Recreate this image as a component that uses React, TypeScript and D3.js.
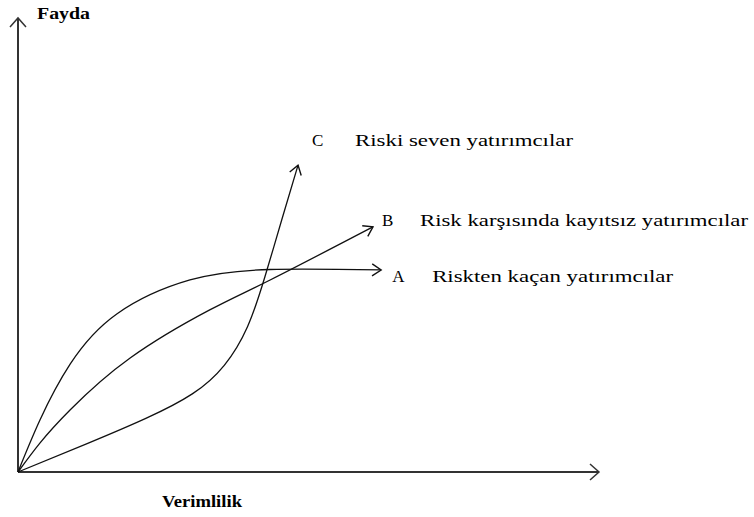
import React from "react";
import * as d3 from "d3";

// Curve data in abstract units (x: Verimlilik 0..100, y: Fayda 0..100)
const curveA_x = [0, 3.8, 9.0, 17.0, 29.6, 43.4, 62.5];
const curveA_y = [0, 11.5, 23.8, 34.8, 42.3, 44.6, 44.5];

const curveB_x = [0, 3.8, 9.0, 19.3, 33.0, 43.4, 61.1];
const curveB_y = [0, 6.4, 13.7, 25.1, 35.7, 42.3, 54.0];

const curveC_x = [0, 12, 22, 30, 35.5, 39.5, 42.5, 45.5, 48.2];
const curveC_y = [0, 6.3, 11.8, 17.2, 23.5, 32, 43, 56, 67.6];

const axisLabels = { x: "Verimlilik", y: "Fayda" };
const curveLetters = ["C", "B", "A"];
const curveNames = [
  "Riski seven yatırımcılar",
  "Risk karşısında kayıtsız yatırımcılar",
  "Riskten kaçan yatırımcılar",
];

const W = 754;
const H = 517;
const FONT = "Liberation Serif";

export default function App() {
  const x = d3.scaleLinear().domain([0, 100]).range([18, 599]);
  const y = d3.scaleLinear().domain([0, 100]).range([472, 18]);

  const line = d3
    .line<[number, number]>()
    .x((d) => x(d[0]))
    .y((d) => y(d[1]))
    .curve(d3.curveNatural);

  const zip = (xs: number[], ys: number[]) =>
    xs.map((v, i) => [v, ys[i]] as [number, number]);

  const curves = [
    zip(curveC_x, curveC_y),
    zip(curveB_x, curveB_y),
    zip(curveA_x, curveA_y),
  ];

  const ends = curves.map((c) => c[c.length - 1]);

  // label positions relative to curve ends
  const letterOffsets = [
    [14, -19],
    [9, -1],
    [11, 12],
  ];
  const nameOffsets = [
    [57, -19],
    [47, -1],
    [51, 12],
  ];
  const nameLengths = [218, 328, 241];

  const textStyle = { fontFamily: FONT, fontSize: 17, fill: "#000" } as React.CSSProperties;

  return (
    <svg
      width={W}
      height={H}
      style={{ position: "absolute", left: 0, top: 0, background: "#fff" }}
    >
      <defs>
        <marker
          id="arr"
          viewBox="-12 -8 14 16"
          markerWidth={14}
          markerHeight={16}
          refX={0}
          refY={0}
          orient="auto"
          markerUnits="userSpaceOnUse"
        >
          <path d="M-9,-6 L0,0 L-9,6" fill="none" stroke="#111" strokeWidth={1.4} />
        </marker>
        <marker
          id="arrAxis"
          viewBox="-12 -10 14 20"
          markerWidth={14}
          markerHeight={20}
          refX={0}
          refY={0}
          orient="auto"
          markerUnits="userSpaceOnUse"
        >
          <path d="M-9,-8 L0,0 L-9,8" fill="none" stroke="#333" strokeWidth={1.5} />
        </marker>
      </defs>

      {/* axes */}
      <line
        x1={x(0)}
        y1={y(0)}
        x2={x(0)}
        y2={y(100)}
        stroke="#333"
        strokeWidth={2}
        markerEnd="url(#arrAxis)"
      />
      <line
        x1={x(0)}
        y1={y(0)}
        x2={x(100)}
        y2={y(0)}
        stroke="#333"
        strokeWidth={2}
        markerEnd="url(#arrAxis)"
      />

      {curves.map((c, i) => (
        <path
          key={i}
          d={line(c) || ""}
          fill="none"
          stroke="#111"
          strokeWidth={1.3}
          markerEnd="url(#arr)"
        />
      ))}

      {ends.map((e, i) => (
        <g key={"lab" + i}>
          <text
            x={x(e[0]) + letterOffsets[i][0]}
            y={y(e[1]) + letterOffsets[i][1]}
            style={textStyle}
          >
            {curveLetters[i]}
          </text>
          <text
            x={x(e[0]) + nameOffsets[i][0]}
            y={y(e[1]) + nameOffsets[i][1]}
            style={textStyle}
            textLength={nameLengths[i]}
            lengthAdjust="spacingAndGlyphs"
          >
            {curveNames[i]}
          </text>
        </g>
      ))}

      <text x={37} y={19} style={{ ...textStyle, fontWeight: 700 }} textLength={53} lengthAdjust="spacingAndGlyphs">
        {axisLabels.y}
      </text>
      <text x={162} y={507} style={{ ...textStyle, fontWeight: 700 }} textLength={80} lengthAdjust="spacingAndGlyphs">
        {axisLabels.x}
      </text>
    </svg>
  );
}
